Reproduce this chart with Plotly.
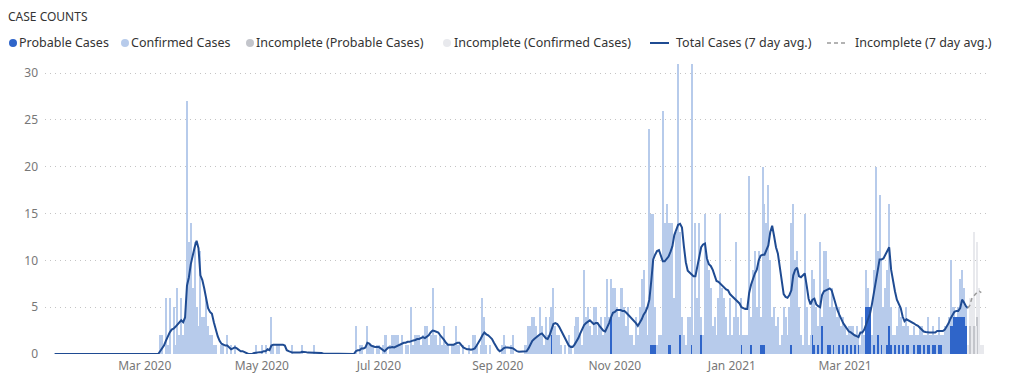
import pandas as pd
import plotly.graph_objects as go

start_date = "2020-01-14"

# ---------------- Confirmed cases (light blue) per day, by month ----------------
c_2020_01 = [0, 0, 0, 0, 0, 0, 0, 0, 0, 0, 0, 0, 0, 0, 0, 0, 0, 0]
c_2020_02 = [0, 0, 0, 0, 0, 0, 0, 0, 0, 0, 0, 0, 0, 0, 0, 0, 0, 0, 0, 0, 0, 0, 0, 0, 0, 0, 0, 0, 0]
c_2020_03 = [0, 0, 0, 0, 0, 0, 0, 0, 2, 2, 0, 6, 1, 6, 0, 5, 1, 7, 2, 6, 2, 4, 27, 12, 14, 7, 12, 5, 3, 11, 4]
c_2020_04 = [4, 6, 3, 2, 2, 1, 1, 0, 0, 1, 1, 0, 2, 0, 1, 0, 1, 0, 0, 0, 0, 0, 0, 0, 0, 0, 0, 1, 0, 0]
c_2020_05 = [1, 0, 1, 0, 0, 4, 1, 0, 1, 1, 0, 0, 0, 0, 0, 0, 1, 0, 0, 0, 0, 1, 0, 0, 0, 0, 0, 1, 0, 0, 0]
c_2020_06 = [0, 0, 0, 0, 0, 0, 0, 0, 0, 0, 0, 0, 0, 0, 0, 0, 0, 0, 3, 0, 1, 1, 0, 0, 3, 1, 1, 1, 0, 1]
c_2020_07 = [1, 0, 1, 2, 2, 0, 1, 2, 2, 2, 2, 1, 2, 0, 1, 1, 0, 5, 1, 2, 2, 2, 1, 2, 3, 3, 1, 2, 7, 2, 2]
c_2020_08 = [1, 2, 1, 3, 1, 1, 0, 1, 1, 3, 1, 1, 0, 1, 0, 0, 1, 0, 2, 2, 1, 0, 1, 6, 4, 1, 0, 1, 0, 0, 0]
c_2020_09 = [0, 0, 1, 2, 1, 0, 0, 1, 2, 0, 0, 0, 0, 0, 1, 1, 3, 3, 4, 4, 3, 2, 5, 3, 1, 4, 2, 4, 3, 7]
c_2020_10 = [3, 2, 2, 1, 0, 1, 0, 2, 1, 0, 3, 4, 4, 2, 1, 9, 4, 5, 3, 2, 5, 5, 2, 3, 4, 2, 4, 8, 4, 4, 7]
c_2020_11 = [7, 5, 4, 7, 7, 5, 3, 5, 2, 2, 1, 4, 2, 5, 8, 9, 5, 2, 24, 14, 14, 4, 1, 2, 2, 26, 14, 16, 13, 13]
c_2020_12 = [14, 6, 13, 31, 11, 4, 2, 1, 4, 4, 30, 2, 14, 6, 14, 2, 2, 15, 10, 9, 7, 3, 4, 2, 6, 15, 7, 6, 4, 2, 6]
c_2021_01 = [2, 4, 12, 4, 2, 5, 2, 2, 2, 19, 3, 9, 11, 5, 11, 3, 19, 15, 14, 18, 10, 4, 5, 3, 4, 1, 2, 5, 4, 2, 5]
c_2021_02 = [13, 16, 10, 11, 5, 2, 1, 15, 5, 1, 2, 7, 7, 5, 2, 12, 1, 11, 11, 7, 4, 7, 4, 5, 4, 4, 3, 3]
c_2021_03 = [3, 1, 3, 2, 3, 1, 3, 1, 1, 4, 2, 4, 2, 0, 2, 8, 20, 9, 17, 9, 5, 7, 8, 13, 4, 2, 1, 3, 4, 4, 2]
c_2021_04 = [3, 4, 2, 2, 2, 2, 2, 1, 2, 3, 1, 2, 3, 1, 2, 2, 1, 2, 3, 1, 2, 3, 3, 4, 7, 2, 1, 0, 1, 4]
c_2021_05 = [5, 3, 2, 0, 0, 0, 0, 0, 0, 0, 0, 0]

# ---------------- Probable cases (dark blue) per day ----------------
p_2020_01 = [0, 0, 0, 0, 0, 0, 0, 0, 0, 0, 0, 0, 0, 0, 0, 0, 0, 0]
p_2020_02 = [0, 0, 0, 0, 0, 0, 0, 0, 0, 0, 0, 0, 0, 0, 0, 0, 0, 0, 0, 0, 0, 0, 0, 0, 0, 0, 0, 0, 0]
p_2020_03 = [0, 0, 0, 0, 0, 0, 0, 0, 0, 0, 0, 0, 0, 0, 0, 0, 0, 0, 0, 0, 0, 0, 0, 0, 0, 0, 0, 0, 0, 0, 0]
p_2020_04 = [0, 0, 0, 0, 0, 0, 0, 0, 0, 0, 0, 0, 0, 0, 0, 0, 0, 0, 0, 0, 0, 0, 0, 0, 0, 0, 0, 0, 0, 0]
p_2020_05 = [0, 0, 0, 0, 0, 0, 0, 0, 0, 0, 0, 0, 0, 0, 0, 0, 0, 0, 0, 0, 0, 0, 0, 0, 0, 0, 0, 0, 0, 0, 0]
p_2020_06 = [0, 0, 0, 0, 0, 0, 0, 0, 0, 0, 0, 0, 0, 0, 0, 0, 0, 0, 0, 0, 0, 0, 0, 0, 0, 0, 0, 0, 0, 0]
p_2020_07 = [0, 0, 0, 0, 0, 0, 0, 0, 0, 0, 0, 0, 0, 0, 0, 0, 0, 0, 0, 0, 0, 0, 0, 0, 0, 0, 0, 0, 0, 0, 0]
p_2020_08 = [0, 0, 0, 0, 0, 0, 0, 0, 0, 0, 0, 0, 0, 0, 0, 0, 0, 0, 0, 0, 0, 0, 0, 0, 0, 0, 0, 0, 0, 0, 0]
p_2020_09 = [0, 0, 0, 0, 0, 0, 0, 0, 0, 0, 0, 0, 0, 0, 0, 0, 0, 0, 0, 0, 0, 0, 0, 0, 0, 0, 0, 0, 2, 0]
p_2020_10 = [0, 0, 0, 0, 0, 0, 0, 0, 0, 0, 0, 0, 0, 0, 0, 0, 0, 0, 0, 0, 0, 0, 0, 0, 0, 0, 0, 0, 0, 4, 0]
p_2020_11 = [0, 0, 0, 0, 0, 0, 0, 0, 0, 0, 0, 0, 0, 0, 0, 0, 0, 0, 0, 1, 1, 1, 0, 0, 0, 0, 0, 0, 1, 1]
p_2020_12 = [0, 0, 0, 0, 2, 0, 0, 0, 0, 0, 1, 0, 0, 0, 0, 2, 0, 0, 0, 0, 0, 0, 0, 0, 0, 0, 0, 0, 0, 0, 0]
p_2021_01 = [0, 0, 0, 0, 0, 1, 0, 0, 0, 0, 1, 0, 0, 0, 0, 1, 1, 1, 0, 0, 0, 0, 0, 0, 0, 0, 0, 0, 0, 0, 0]
p_2021_02 = [1, 0, 0, 0, 0, 0, 0, 0, 0, 0, 0, 2, 1, 0, 1, 0, 3, 0, 0, 1, 1, 0, 1, 0, 0, 1, 0, 1]
p_2021_03 = [0, 1, 0, 1, 0, 1, 0, 1, 0, 0, 0, 5, 5, 5, 0, 1, 0, 2, 0, 1, 0, 0, 1, 3, 1, 0, 1, 0, 1, 0, 1]
p_2021_04 = [0, 1, 1, 0, 0, 1, 0, 1, 1, 0, 1, 0, 1, 1, 0, 1, 1, 0, 1, 1, 0, 0, 0, 0, 3, 3, 4, 4, 4, 4]
p_2021_05 = [4, 4, 3, 0, 0, 0, 0, 0, 0, 0, 0, 0]

# ---------------- Incomplete period (last days of May 2021) ----------------
inc_prob_2021_05 = [0, 0, 0, 0, 3, 0, 3, 0, 4, 0, 0, 0]
inc_conf_2021_05 = [0, 0, 0, 1, 3, 6, 10, 3, 8, 7, 1, 1]

# ---------------- Total cases, 7 day avg ----------------
a_2020_01 = [0, 0, 0, 0, 0, 0, 0, 0, 0, 0, 0, 0, 0, 0, 0, 0, 0, 0]
a_2020_02 = [0, 0, 0, 0, 0, 0, 0, 0, 0, 0, 0, 0, 0, 0, 0, 0, 0, 0, 0, 0, 0, 0, 0, 0, 0, 0, 0, 0, 0]
a_2020_03 = [0, 0, 0, 0, 0, 0, 0, 0, 0.3, 0.6, 0.9, 1.4, 1.9, 2.3, 2.6, 2.7, 2.9, 3.1, 3.3, 3.6, 3.4, 3.9,
             7.3, 8.2, 9.6, 10.7, 11.4, 12.1, 11.3, 8.4, 7.9]
a_2020_04 = [7.0, 5.9, 4.9, 4.5, 4.3, 3.4, 2.6, 1.9, 1.4, 1.1, 1.0, 0.9, 0.9, 0.7, 0.5, 0.6, 0.7, 0.6, 0.4,
             0.3, 0.3, 0.2, 0.1, 0, 0, 0, 0.1, 0.15, 0.15, 0.2]
a_2020_05 = [0.2, 0.3, 0.3, 0.5, 0.4, 0.9, 1.0, 1.0, 1.0, 1.0, 1.0, 1.0, 0.9, 0.4, 0.3, 0.2, 0.15, 0.15, 0.15,
             0.15, 0.15, 0.25, 0.25, 0.2, 0.15, 0.15, 0.15, 0.15, 0.15, 0.15, 0.1]
a_2020_06 = [0.1, 0.05, 0.05, 0, 0, 0, 0, 0, 0, 0, 0, 0, 0, 0, 0, 0, 0, 0, 0.3, 0.4, 0.4, 0.6, 0.6, 0.7,
             1.2, 1.1, 0.9, 0.8, 0.75, 0.75]
a_2020_07 = [0.75, 0.6, 0.4, 0.3, 0.5, 0.7, 0.7, 0.75, 0.7, 0.8, 0.9, 1.0, 1.15, 1.2, 1.2, 1.3, 1.3, 1.4,
             1.45, 1.5, 1.6, 1.6, 1.7, 1.8, 1.7, 1.85, 2.0, 2.3, 2.5, 2.45, 2.4]
a_2020_08 = [2.3, 2.0, 1.8, 1.5, 1.2, 1.0, 1.0, 1.0, 1.0, 1.1, 1.2, 1.2, 0.9, 0.7, 0.6, 0.5, 0.5, 0.45, 0.5,
             0.6, 0.9, 1.2, 1.6, 2.0, 2.3, 2.1, 2.0, 1.8, 1.6, 1.2, 0.8]
a_2020_09 = [0.5, 0.3, 0.4, 0.6, 0.7, 0.7, 0.7, 0.65, 0.6, 0.45, 0.3, 0.25, 0.25, 0.25, 0.25, 0.3, 0.6, 1.0,
             1.4, 1.6, 1.8, 1.9, 2.1, 2.2, 1.9, 1.7, 1.6, 2.0, 2.6, 3.2]
a_2020_10 = [3.3, 3.2, 2.9, 2.5, 2.1, 1.6, 1.2, 0.9, 0.75, 0.75, 1.0, 1.3, 1.7, 2.2, 2.7, 3.1, 3.3, 3.5, 3.6,
             3.4, 3.2, 3.3, 3.3, 3.0, 2.7, 2.5, 2.4, 2.8, 3.3, 3.9, 4.4]
a_2020_11 = [4.5, 4.7, 4.7, 4.7, 4.6, 4.6, 4.4, 4.2, 4.0, 3.8, 3.5, 3.3, 3.0, 3.3, 3.7, 4.2, 4.5, 5.0, 5.8,
             7.8, 10.1, 10.6, 11.0, 11.1, 10.6, 9.9, 9.9, 10.1, 10.4, 10.9]
a_2020_12 = [11.5, 12.7, 13.3, 13.8, 13.9, 13.5, 11.5, 9.8, 8.9, 8.7, 8.6, 8.3, 8.3, 9.3, 10.6, 11.4, 11.7,
             11.8, 10.2, 9.6, 9.4, 9.0, 8.4, 7.8, 7.7, 7.5, 7.2, 7.1, 6.9, 6.8, 6.4]
a_2021_01 = [6.2, 6.0, 5.9, 5.7, 5.4, 5.0, 4.9, 4.8, 4.8, 6.5, 7.4, 8.1, 8.6, 9.0, 10.0, 10.5, 10.6, 10.6,
             11.1, 11.6, 13.0, 13.7, 12.6, 11.4, 10.7, 9.4, 8.0, 6.4, 6.1, 6.0, 6.3]
a_2021_02 = [6.8, 8.4, 9.0, 9.2, 8.3, 8.2, 8.4, 8.6, 7.3, 5.9, 5.3, 5.8, 5.9, 5.3, 5.1, 5.0, 6.3, 6.7, 6.8,
             6.9, 7.0, 6.8, 6.0, 5.3, 4.7, 4.2, 3.7, 3.3]
a_2021_03 = [3.0, 2.7, 2.4, 2.3, 2.1, 2.0, 1.9, 1.8, 2.3, 2.3, 2.6, 3.1, 3.6, 4.3, 5.3, 6.5, 8.0, 9.3, 10.1,
             10.1, 10.2, 10.6, 11.0, 11.4, 9.0, 7.6, 6.7, 5.8, 5.3, 4.9, 4.0]
a_2021_04 = [3.5, 3.7, 3.6, 3.45, 3.35, 3.25, 3.1, 3.0, 2.8, 2.55, 2.4, 2.35, 2.3, 2.3, 2.3, 2.3, 2.3, 2.45,
             2.45, 2.45, 2.45, 2.6, 2.9, 3.3, 3.8, 4.2, 4.5, 4.6, 4.6, 4.9]
a_2021_05 = [5.8, 5.5, 5.1, 4.9, None, None, None, None, None, None, None, None]
inc_avg_2021_05 = [None, None, None, 4.9, 5.2, 5.9, 6.2, 6.4, 6.6, 6.7, 6.55, None]

# ---------------- axis tick labels ----------------
tick_dates = ["2020-03-01", "2020-05-01", "2020-07-01", "2020-09-01", "2020-11-01", "2021-01-01", "2021-03-01"]
tick_text = ["Mar 2020", "May 2020", "Jul 2020", "Sep 2020", "Nov 2020", "Jan 2021", "Mar 2021"]
y_ticks = [0, 5, 10, 15, 20, 25, 30]

legend_labels = ["Probable Cases", "Confirmed Cases", "Incomplete (Probable Cases)",
                 "Incomplete (Confirmed Cases)", "Total Cases (7 day avg.)", "Incomplete (7 day avg.)"]

# ---------------- assemble ----------------
conf = (c_2020_01 + c_2020_02 + c_2020_03 + c_2020_04 + c_2020_05 + c_2020_06 + c_2020_07 + c_2020_08 +
        c_2020_09 + c_2020_10 + c_2020_11 + c_2020_12 + c_2021_01 + c_2021_02 + c_2021_03 + c_2021_04 + c_2021_05)
prob = (p_2020_01 + p_2020_02 + p_2020_03 + p_2020_04 + p_2020_05 + p_2020_06 + p_2020_07 + p_2020_08 +
        p_2020_09 + p_2020_10 + p_2020_11 + p_2020_12 + p_2021_01 + p_2021_02 + p_2021_03 + p_2021_04 + p_2021_05)
avg = (a_2020_01 + a_2020_02 + a_2020_03 + a_2020_04 + a_2020_05 + a_2020_06 + a_2020_07 + a_2020_08 +
       a_2020_09 + a_2020_10 + a_2020_11 + a_2020_12 + a_2021_01 + a_2021_02 + a_2021_03 + a_2021_04 + a_2021_05)
n_before = len(conf) - len(c_2021_05)
inc_prob = [0] * n_before + inc_prob_2021_05
inc_conf = [0] * n_before + inc_conf_2021_05
inc_avg = [None] * n_before + inc_avg_2021_05

dates = pd.date_range(start_date, periods=len(conf), freq="D")

C_PROB = "#2f65c9"
C_CONF = "#b7cbeb"
C_IPROB = "#c3c5cb"
C_ICONF = "#e8e9ed"
C_LINE = "#1f4b92"
C_ILINE = "#9b9b9b"
FONT = "Segoe UI, Noto Sans, sans-serif"

fig = go.Figure()
fig.add_bar(x=dates, y=prob, name=legend_labels[0], marker=dict(color=C_PROB, line=dict(width=0)))
fig.add_bar(x=dates, y=conf, name=legend_labels[1], marker=dict(color=C_CONF, line=dict(width=0)))
fig.add_bar(x=dates, y=inc_prob, name=legend_labels[2], marker=dict(color=C_IPROB, line=dict(width=0)))
fig.add_bar(x=dates, y=inc_conf, name=legend_labels[3], marker=dict(color=C_ICONF, line=dict(width=0)))
fig.add_scatter(x=dates, y=avg, name=legend_labels[4], mode="lines",
                line=dict(color=C_LINE, width=2), connectgaps=False)
fig.add_scatter(x=dates, y=inc_avg, name=legend_labels[5], mode="lines",
                line=dict(color=C_ILINE, width=1.5, dash="4px,3px"), connectgaps=False)

W, H = 1024, 376
L, R, T, B = 45, 988, 59, 354


def px(xp):
    return (xp - L) / (R - L)


def py(yp):
    return (B - yp) / (B - T)


shapes = []
annotations = []
ly = 43
legend_spec = [
    ("dot", C_PROB, 13, 19),
    ("dot", C_CONF, 125, 131),
    ("dot", C_IPROB, 250, 256),
    ("dot", C_ICONF, 447, 454),
    ("line", C_LINE, 650, 676),
    ("dash", C_ILINE, 827, 855),
]
for (kind, col, sx, tx), label in zip(legend_spec, legend_labels):
    if kind == "dot":
        shapes.append(dict(type="circle", xref="paper", yref="paper",
                           x0=px(sx - 4), x1=px(sx + 4), y0=py(ly + 4), y1=py(ly - 4),
                           fillcolor=col, line=dict(width=0)))
    else:
        shapes.append(dict(type="line", xref="paper", yref="paper",
                           x0=px(sx), x1=px(sx + 19), y0=py(ly), y1=py(ly),
                           line=dict(color=col, width=2 if kind == "line" else 1.5,
                                     dash="solid" if kind == "line" else "4px,3px")))
    annotations.append(dict(text=label, xref="paper", yref="paper", x=px(tx - 2), y=py(ly),
                            xanchor="left", yanchor="middle", showarrow=False,
                            font=dict(family=FONT, size=12.5, color="#333333")))

annotations.append(dict(text="CASE COUNTS", xref="paper", yref="paper", x=px(6), y=py(16),
                        xanchor="left", yanchor="middle", showarrow=False,
                        font=dict(family=FONT, size=12, color="#333333")))

fig.update_layout(
    width=W, height=H,
    margin=dict(l=L, r=W - R, t=T, b=H - B, pad=0),
    barmode="stack", bargap=0.45,
    showlegend=False,
    plot_bgcolor="white", paper_bgcolor="white",
    shapes=shapes, annotations=annotations,
    font=dict(family=FONT, size=12, color="#666666"),
)
fig.update_xaxes(
    type="date", range=["2020-01-09", "2021-05-14 12:00"], automargin=False,
    tickvals=tick_dates, ticktext=tick_text, showgrid=False, zeroline=False, showline=False,
    ticks="", ticklabelstandoff=3, tickfont=dict(family=FONT, size=12, color="#777777"),
)
fig.update_yaxes(
    range=[0, 31.5], tickvals=y_ticks, showgrid=True, gridcolor="#c4c4c4", griddash="1px,4px", gridwidth=1,
    zeroline=False, showline=False, ticks="", ticklabelstandoff=6, automargin=False,
    tickfont=dict(family=FONT, size=12, color="#777777"),
)

fig.write_html("out.html", config={"displayModeBar": False},
               post_script="document.body.style.margin='0';document.body.style.overflow='hidden';")
